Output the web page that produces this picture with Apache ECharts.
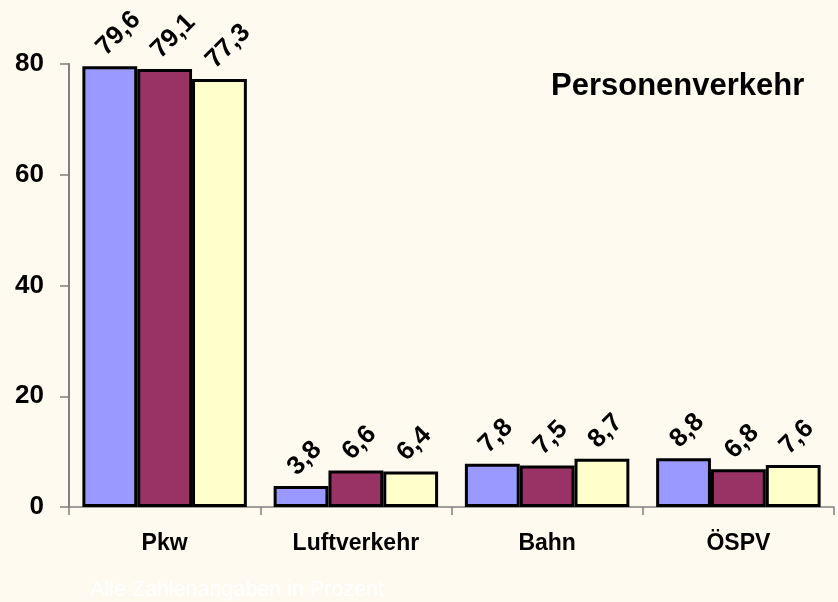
<!DOCTYPE html>
<html>
<head>
<meta charset="utf-8">
<script src="https://cdn.jsdelivr.net/npm/echarts@6/dist/echarts.min.js"></script>
<style>
  html, body { margin: 0; padding: 0; background: #FFFAF0; }
  #chart { width: 838px; height: 602px; }
</style>
</head>
<body>
<div id="chart"></div>
<script>
// Anteile am Personenverkehr, drei Reihen je Verkehrsart
const categories = ['Pkw', 'Luftverkehr', 'Bahn', 'ÖSPV']
const series1 = [79.6, 3.8, 7.8, 8.8]
const series2 = [79.1, 6.6, 7.5, 6.8]
const series3 = [77.3, 6.4, 8.7, 7.6]
const colors = ['#9999FF', '#993366', '#FFFFCC']

const FONT = '"Liberation Sans", Arial, sans-serif'

const chart = echarts.init(document.getElementById('chart'))

const makeSeries = (data, i) => ({
  type: 'bar',
  name: 'Reihe ' + (i + 1),
  data,
  barGap: '0%',
  barCategoryGap: '14%',
  itemStyle: { color: colors[i], borderColor: '#000', borderWidth: 3 },
  label: {
    show: true,
    position: 'top',
    distance: 24,
    offset: [-13, 0],
    rotate: 45,
    align: 'left',
    verticalAlign: 'middle',
    fontFamily: FONT,
    fontWeight: 'bold',
    fontSize: 26,
    color: '#000',
    formatter: p => p.value.toFixed(1).replace('.', ',')
  }
})

chart.setOption({
  backgroundColor: '#FFFAF0',
  animation: false,
  title: {
    text: 'Personenverkehr',
    left: 546,
    top: 66,
    textStyle: { fontFamily: FONT, fontWeight: 'bold', fontSize: 31, color: '#000' }
  },
  graphic: [{
    type: 'text',
    left: 90,
    top: 579,
    style: {
      text: 'Alle Zahlenangaben in Prozent',
      fontFamily: FONT,
      fontSize: 21.5,
      fill: '#FFFFFF'
    }
  }],
  grid: { left: 69, right: 4, top: 64, bottom: 95 },
  xAxis: {
    type: 'category',
    data: categories,
    axisLine: { lineStyle: { color: '#808080', width: 1.5 } },
    axisTick: { show: true, length: 8, lineStyle: { color: '#808080', width: 1.5 } },
    axisLabel: {
      margin: 25,
      fontFamily: FONT,
      fontWeight: 'bold',
      fontSize: 23,
      color: '#000'
    }
  },
  yAxis: {
    type: 'value',
    min: 0,
    max: 80,
    interval: 20,
    splitLine: { show: false },
    axisLine: { show: true, lineStyle: { color: '#808080', width: 2 } },
    axisTick: { show: true, length: 9, lineStyle: { color: '#808080', width: 1.5 } },
    axisLabel: {
      margin: 25,
      fontFamily: FONT,
      fontWeight: 'bold',
      fontSize: 26,
      color: '#000'
    }
  },
  series: [series1, series2, series3].map(makeSeries)
})
</script>
</body>
</html>
